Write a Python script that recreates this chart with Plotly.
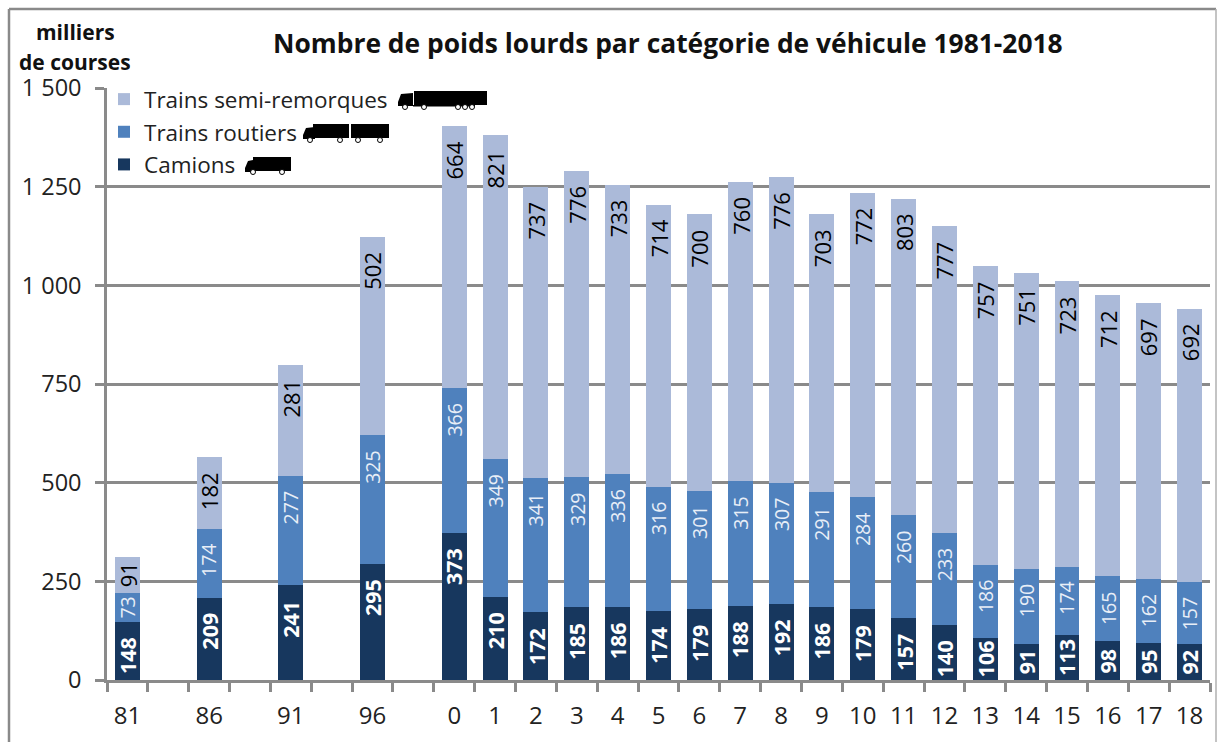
import plotly.graph_objects as go

tick_labels = ["81", "", "86", "", "91", "", "96", "", "0", "1", "2", "3", "4", "5", "6", "7", "8", "9",
               "10", "11", "12", "13", "14", "15", "16", "17", "18"]
camions = [148, None, 209, None, 241, None, 295, None, 373, 210, 172, 185, 186, 174, 179, 188, 192, 186,
           179, 157, 140, 106, 91, 113, 98, 95, 92]
routiers = [73, None, 174, None, 277, None, 325, None, 366, 349, 341, 329, 336, 316, 301, 315, 307, 291,
            284, 260, 233, 186, 190, 174, 165, 162, 157]
semi = [91, None, 182, None, 281, None, 502, None, 664, 821, 737, 776, 733, 714, 700, 760, 776, 703,
        772, 803, 777, 757, 751, 723, 712, 697, 692]
y_ticks = [0, 250, 500, 750, 1000, 1250, 1500]
y_tick_text = ["0", "250", "500", "750", "1 000", "1 250", "1 500"]

W, H = 1217, 742
L, R, T, B = 107, 1210, 88, 680
FONT = "Open Sans"
GREY = "#8a8a8a"
slots = [f"s{i}" for i in range(len(tick_labels))]


def px(x):
    return (x - L) / (R - L)


def py(y):
    return (B - y) / (B - T)


fig = go.Figure()
series = [
    ("Camions", camions, "#17375E", 3),
    ("Trains routiers", routiers, "#4F81BD", 2),
    ("Trains semi-remorques", semi, "#ABBAD9", 1),
]
for name, vals, col, rank in series:
    fig.add_bar(x=slots, y=vals, name=name, marker=dict(color=col, line=dict(width=0)),
                legendgroup=name, legendrank=rank, hoverinfo="x+y+name")

# data labels, rotated, anchored from the top of each bar segment
annots = []
styles = [
    (camions, "white", 21.5, True, 34),
    (routiers, "#E8EEF7", 19.5, False, 32),
    (semi, "black", 22, False, 34),
]
bases = [0] * len(slots)
for vals, col, size, bold, gap in styles:
    for i, v in enumerate(vals):
        if v is None:
            continue
        small = v < 127
        y = bases[i] + v / 2 if small else bases[i] + v
        annots.append(dict(x=slots[i], y=y, xref="x", yref="y", text=f"<b>{v}</b>" if bold else str(v),
                           textangle=-90, showarrow=False, xanchor="center", yanchor="middle",
                           yshift=0 if small else -gap,
                           font=dict(family=FONT, size=size, color=col)))
        bases[i] += v

title_font = dict(family=FONT, size=26.4, color="#111111")
annots.append(dict(xref="paper", yref="paper", x=px(668), y=py(43), text="<b>Nombre de poids lourds par catégorie de véhicule 1981-2018</b>",
                   showarrow=False, xanchor="center", yanchor="middle", font=title_font))
for txt, yy in [("milliers", 32), ("de courses", 62)]:
    annots.append(dict(xref="paper", yref="paper", x=px(75), y=py(yy), text=f"<b>{txt}</b>", showarrow=False,
                       xanchor="center", yanchor="middle", height=20, font=dict(family=FONT, size=21, color="#111111")))

shapes = []


def rect(x0, y0, x1, y1, fill="black", line=None, w=0):
    shapes.append(dict(type="rect", xref="paper", yref="paper", x0=px(x0), x1=px(x1), y0=py(y0), y1=py(y1),
                       fillcolor=fill, line=dict(color=line or fill, width=w), layer="above"))


def wheel(cx, cy):
    shapes.append(dict(type="circle", xref="paper", yref="paper", x0=px(cx - 2.5), x1=px(cx + 2.5),
                       y0=py(cy - 2.5), y1=py(cy + 2.5), fillcolor="white",
                       line=dict(color="black", width=1), layer="above"))


def cab(x0, x1, y0, y1):
    # tractor silhouette, nose to the left
    shapes.append(dict(type="path", xref="paper", yref="paper", layer="above", fillcolor="black",
                       line=dict(width=0),
                       path=f"M{px(x0)},{py(y1)} L{px(x0)},{py(y1-4)} L{px(x0+3)},{py(y0+1)} "
                            f"L{px(x1)},{py(y0)} L{px(x1)},{py(y1)} Z"))


# semi-trailer truck
cab(398, 413, 93, 106)
rect(414, 91, 487, 105)
rect(413, 105, 475, 106.5)
for cx in (405, 424, 458, 465, 472):
    wheel(cx, 107)
# road train
cab(303, 315, 127, 139)
rect(313, 124, 349, 138)
rect(351, 124, 389, 138)
for cx in (310, 340, 358, 380):
    wheel(cx, 140)
# truck
cab(245, 253, 160, 172)
rect(253, 157, 291, 171)
for cx in (253, 282):
    wheel(cx, 172)

# outer frame
shapes.append(dict(type="line", xref="paper", yref="paper", x0=px(9), x1=px(9), y0=py(9), y1=py(742),
                   line=dict(color=GREY, width=2.5), layer="below"))
shapes.append(dict(type="line", xref="paper", yref="paper", x0=px(9), x1=px(1216), y0=py(9), y1=py(9),
                   line=dict(color=GREY, width=2.5), layer="below"))
shapes.append(dict(type="line", xref="paper", yref="paper", x0=px(1216), x1=px(1216), y0=py(9), y1=py(742),
                   line=dict(color="#b0b0b0", width=1.5), layer="below"))

fig.update_layout(
    width=W, height=H, autosize=False,
    margin=dict(l=L, r=W - R, t=T, b=H - B, autoexpand=False),
    paper_bgcolor="white", plot_bgcolor="white",
    barmode="stack", bargap=0.39,
    font=dict(family=FONT, color="#222222"),
    showlegend=True,
    legend=dict(x=px(104), y=py(78), xanchor="left", yanchor="top", traceorder="grouped",
                tracegroupgap=0.4, bgcolor="rgba(0,0,0,0)", font=dict(family=FONT, size=22.5, color="#222222"),
                itemclick=False, itemdoubleclick=False),
    annotations=annots,
    shapes=shapes,
    xaxis=dict(type="category", categoryorder="array", categoryarray=slots, tickmode="array", tickvals=slots,
               ticktext=tick_labels, range=[-0.5, 26.5], tickson="boundaries", ticks="outside", ticklen=9,
               tickwidth=2.5, tickcolor=GREY, showline=True, linecolor=GREY, linewidth=2.5, showgrid=False,
               tickfont=dict(family=FONT, size=24, color="#222222"), ticklabelstandoff=12, tickangle=0),
    yaxis=dict(range=[0, 1500], tickmode="array", tickvals=y_ticks, ticktext=y_tick_text, ticks="outside",
               ticklen=9, tickwidth=2.5, tickcolor=GREY, showline=True, linecolor=GREY, linewidth=2.5,
               gridcolor=GREY, gridwidth=2.5, zeroline=False,
               tickfont=dict(family=FONT, size=23.5, color="#222222"), ticklabelstandoff=9),
)
fig.write_html("out.html", config={"displayModeBar": False},
               post_script="document.body.style.margin='0';document.body.style.overflow='hidden';")
